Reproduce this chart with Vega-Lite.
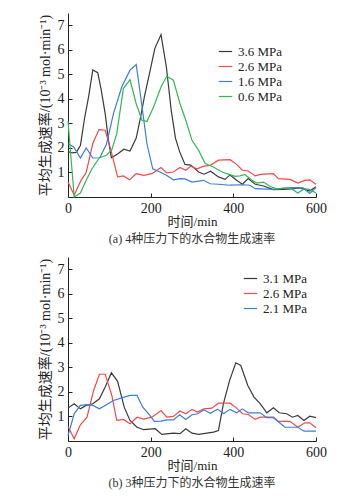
{
  "$schema": "https://vega.github.io/schema/vega-lite/v6.json",
  "padding": {"left": 38, "top": 13, "right": 8, "bottom": 5},
  "background": "white",
  "config": {
    "view": {"stroke": null},
    "font": "'Liberation Serif', 'Noto Sans CJK SC'",
    "axis": {
      "domainColor": "#222", "tickColor": "#222", "grid": false,
      "labelFont": "'Liberation Serif', 'Noto Sans CJK SC'", "labelFontSize": 14, "labelColor": "#222",
      "titleFont": "'Liberation Serif', 'Noto Sans CJK SC'", "titleFontSize": 13, "titleFontWeight": "normal", "titleColor": "#222"
    },
    "legend": {"labelFont": "'Liberation Serif'", "labelFontSize": 13, "labelColor": "#222"}
  },
  "datasets": {
    "a": [
      {"t":0,"v":1.85,"s":"3.6 MPa"},{"t":10,"v":1.8,"s":"3.6 MPa"},{"t":20,"v":1.82,"s":"3.6 MPa"},{"t":30,"v":2.1,"s":"3.6 MPa"},{"t":40,"v":3.2,"s":"3.6 MPa"},{"t":50,"v":4.1,"s":"3.6 MPa"},{"t":60,"v":5.18,"s":"3.6 MPa"},{"t":72,"v":5.07,"s":"3.6 MPa"},{"t":80,"v":4.4,"s":"3.6 MPa"},{"t":90,"v":3.4,"s":"3.6 MPa"},{"t":98,"v":2.3,"s":"3.6 MPa"},{"t":105,"v":1.6,"s":"3.6 MPa"},{"t":120,"v":1.75,"s":"3.6 MPa"},{"t":135,"v":1.95,"s":"3.6 MPa"},{"t":150,"v":1.87,"s":"3.6 MPa"},{"t":165,"v":2.4,"s":"3.6 MPa"},{"t":175,"v":3.2,"s":"3.6 MPa"},{"t":185,"v":4.1,"s":"3.6 MPa"},{"t":198,"v":5.1,"s":"3.6 MPa"},{"t":210,"v":6.05,"s":"3.6 MPa"},{"t":225,"v":6.62,"s":"3.6 MPa"},{"t":238,"v":5.3,"s":"3.6 MPa"},{"t":250,"v":3.5,"s":"3.6 MPa"},{"t":260,"v":2.4,"s":"3.6 MPa"},{"t":270,"v":1.85,"s":"3.6 MPa"},{"t":283,"v":1.33,"s":"3.6 MPa"},{"t":297,"v":1.3,"s":"3.6 MPa"},{"t":316,"v":1.02,"s":"3.6 MPa"},{"t":329,"v":0.93,"s":"3.6 MPa"},{"t":345,"v":1.05,"s":"3.6 MPa"},{"t":364,"v":0.82,"s":"3.6 MPa"},{"t":380,"v":0.72,"s":"3.6 MPa"},{"t":392,"v":0.9,"s":"3.6 MPa"},{"t":408,"v":0.68,"s":"3.6 MPa"},{"t":422,"v":0.52,"s":"3.6 MPa"},{"t":436,"v":0.75,"s":"3.6 MPa"},{"t":453,"v":0.52,"s":"3.6 MPa"},{"t":473,"v":0.45,"s":"3.6 MPa"},{"t":497,"v":0.3,"s":"3.6 MPa"},{"t":520,"v":0.31,"s":"3.6 MPa"},{"t":540,"v":0.33,"s":"3.6 MPa"},{"t":561,"v":0.37,"s":"3.6 MPa"},{"t":585,"v":0.24,"s":"3.6 MPa"},{"t":600,"v":0.42,"s":"3.6 MPa"},

      {"t":0,"v":0.61,"s":"2.6 MPa"},{"t":15,"v":0.08,"s":"2.6 MPa"},{"t":31,"v":0.66,"s":"2.6 MPa"},{"t":44,"v":1.0,"s":"2.6 MPa"},{"t":60,"v":2.18,"s":"2.6 MPa"},{"t":75,"v":2.75,"s":"2.6 MPa"},{"t":90,"v":2.72,"s":"2.6 MPa"},{"t":104,"v":1.9,"s":"2.6 MPa"},{"t":120,"v":0.82,"s":"2.6 MPa"},{"t":134,"v":0.86,"s":"2.6 MPa"},{"t":149,"v":0.7,"s":"2.6 MPa"},{"t":165,"v":0.95,"s":"2.6 MPa"},{"t":183,"v":0.88,"s":"2.6 MPa"},{"t":203,"v":0.95,"s":"2.6 MPa"},{"t":225,"v":1.2,"s":"2.6 MPa"},{"t":239,"v":0.98,"s":"2.6 MPa"},{"t":255,"v":1.02,"s":"2.6 MPa"},{"t":271,"v":1.2,"s":"2.6 MPa"},{"t":285,"v":1.09,"s":"2.6 MPa"},{"t":297,"v":1.26,"s":"2.6 MPa"},{"t":312,"v":1.15,"s":"2.6 MPa"},{"t":329,"v":1.26,"s":"2.6 MPa"},{"t":344,"v":1.29,"s":"2.6 MPa"},{"t":364,"v":1.5,"s":"2.6 MPa"},{"t":392,"v":1.52,"s":"2.6 MPa"},{"t":408,"v":1.33,"s":"2.6 MPa"},{"t":422,"v":1.09,"s":"2.6 MPa"},{"t":436,"v":1.06,"s":"2.6 MPa"},{"t":453,"v":0.86,"s":"2.6 MPa"},{"t":465,"v":0.92,"s":"2.6 MPa"},{"t":497,"v":0.95,"s":"2.6 MPa"},{"t":509,"v":0.75,"s":"2.6 MPa"},{"t":537,"v":0.72,"s":"2.6 MPa"},{"t":556,"v":0.57,"s":"2.6 MPa"},{"t":573,"v":0.68,"s":"2.6 MPa"},{"t":585,"v":0.7,"s":"2.6 MPa"},{"t":600,"v":0.52,"s":"2.6 MPa"},

      {"t":0,"v":2.17,"s":"1.6 MPa"},{"t":14,"v":2.04,"s":"1.6 MPa"},{"t":30,"v":1.59,"s":"1.6 MPa"},{"t":44,"v":2.0,"s":"1.6 MPa"},{"t":60,"v":1.59,"s":"1.6 MPa"},{"t":77,"v":1.6,"s":"1.6 MPa"},{"t":93,"v":2.15,"s":"1.6 MPa"},{"t":110,"v":3.4,"s":"1.6 MPa"},{"t":130,"v":4.48,"s":"1.6 MPa"},{"t":150,"v":5.17,"s":"1.6 MPa"},{"t":165,"v":5.4,"s":"1.6 MPa"},{"t":175,"v":4.2,"s":"1.6 MPa"},{"t":191,"v":2.17,"s":"1.6 MPa"},{"t":205,"v":1.15,"s":"1.6 MPa"},{"t":225,"v":1.0,"s":"1.6 MPa"},{"t":239,"v":0.88,"s":"1.6 MPa"},{"t":255,"v":0.7,"s":"1.6 MPa"},{"t":271,"v":0.75,"s":"1.6 MPa"},{"t":283,"v":0.74,"s":"1.6 MPa"},{"t":300,"v":0.61,"s":"1.6 MPa"},{"t":328,"v":0.68,"s":"1.6 MPa"},{"t":344,"v":0.54,"s":"1.6 MPa"},{"t":364,"v":0.52,"s":"1.6 MPa"},{"t":392,"v":0.48,"s":"1.6 MPa"},{"t":424,"v":0.5,"s":"1.6 MPa"},{"t":440,"v":0.48,"s":"1.6 MPa"},{"t":453,"v":0.34,"s":"1.6 MPa"},{"t":497,"v":0.31,"s":"1.6 MPa"},{"t":537,"v":0.38,"s":"1.6 MPa"},{"t":569,"v":0.37,"s":"1.6 MPa"},{"t":585,"v":0.14,"s":"1.6 MPa"},{"t":600,"v":0.38,"s":"1.6 MPa"},

      {"t":0,"v":3.1,"s":"0.6 MPa"},{"t":15,"v":0.0,"s":"0.6 MPa"},{"t":30,"v":0.16,"s":"0.6 MPa"},{"t":44,"v":0.68,"s":"0.6 MPa"},{"t":58,"v":1.15,"s":"0.6 MPa"},{"t":76,"v":1.6,"s":"0.6 MPa"},{"t":93,"v":1.7,"s":"0.6 MPa"},{"t":106,"v":1.93,"s":"0.6 MPa"},{"t":118,"v":2.58,"s":"0.6 MPa"},{"t":134,"v":4.42,"s":"0.6 MPa"},{"t":150,"v":4.78,"s":"0.6 MPa"},{"t":165,"v":3.8,"s":"0.6 MPa"},{"t":179,"v":3.13,"s":"0.6 MPa"},{"t":191,"v":3.08,"s":"0.6 MPa"},{"t":207,"v":3.67,"s":"0.6 MPa"},{"t":225,"v":4.48,"s":"0.6 MPa"},{"t":239,"v":4.92,"s":"0.6 MPa"},{"t":255,"v":4.76,"s":"0.6 MPa"},{"t":271,"v":3.8,"s":"0.6 MPa"},{"t":285,"v":3.13,"s":"0.6 MPa"},{"t":300,"v":2.31,"s":"0.6 MPa"},{"t":316,"v":1.9,"s":"0.6 MPa"},{"t":332,"v":1.36,"s":"0.6 MPa"},{"t":352,"v":1.22,"s":"0.6 MPa"},{"t":368,"v":1.06,"s":"0.6 MPa"},{"t":384,"v":0.95,"s":"0.6 MPa"},{"t":404,"v":0.84,"s":"0.6 MPa"},{"t":416,"v":0.86,"s":"0.6 MPa"},{"t":428,"v":0.92,"s":"0.6 MPa"},{"t":445,"v":0.68,"s":"0.6 MPa"},{"t":457,"v":0.57,"s":"0.6 MPa"},{"t":473,"v":0.61,"s":"0.6 MPa"},{"t":489,"v":0.43,"s":"0.6 MPa"},{"t":505,"v":0.33,"s":"0.6 MPa"},{"t":537,"v":0.38,"s":"0.6 MPa"},{"t":556,"v":0.16,"s":"0.6 MPa"},{"t":572,"v":0.34,"s":"0.6 MPa"},{"t":585,"v":0.3,"s":"0.6 MPa"},{"t":600,"v":0.16,"s":"0.6 MPa"}
    ],
    "b": [
      {"t":0,"v":1.34,"s":"3.1 MPa"},{"t":15,"v":1.52,"s":"3.1 MPa"},{"t":30,"v":1.31,"s":"3.1 MPa"},{"t":44,"v":1.45,"s":"3.1 MPa"},{"t":60,"v":1.52,"s":"3.1 MPa"},{"t":76,"v":1.72,"s":"3.1 MPa"},{"t":90,"v":2.2,"s":"3.1 MPa"},{"t":105,"v":2.78,"s":"3.1 MPa"},{"t":120,"v":2.43,"s":"3.1 MPa"},{"t":136,"v":1.38,"s":"3.1 MPa"},{"t":150,"v":0.84,"s":"3.1 MPa"},{"t":167,"v":0.56,"s":"3.1 MPa"},{"t":183,"v":0.46,"s":"3.1 MPa"},{"t":211,"v":0.5,"s":"3.1 MPa"},{"t":227,"v":0.27,"s":"3.1 MPa"},{"t":255,"v":0.32,"s":"3.1 MPa"},{"t":271,"v":0.3,"s":"3.1 MPa"},{"t":285,"v":0.5,"s":"3.1 MPa"},{"t":300,"v":0.32,"s":"3.1 MPa"},{"t":316,"v":0.27,"s":"3.1 MPa"},{"t":352,"v":0.36,"s":"3.1 MPa"},{"t":364,"v":0.43,"s":"3.1 MPa"},{"t":376,"v":1.52,"s":"3.1 MPa"},{"t":391,"v":2.47,"s":"3.1 MPa"},{"t":406,"v":3.19,"s":"3.1 MPa"},{"t":418,"v":3.08,"s":"3.1 MPa"},{"t":435,"v":2.26,"s":"3.1 MPa"},{"t":450,"v":1.79,"s":"3.1 MPa"},{"t":465,"v":1.52,"s":"3.1 MPa"},{"t":481,"v":1.15,"s":"3.1 MPa"},{"t":497,"v":1.35,"s":"3.1 MPa"},{"t":511,"v":1.15,"s":"3.1 MPa"},{"t":529,"v":1.11,"s":"3.1 MPa"},{"t":543,"v":0.97,"s":"3.1 MPa"},{"t":556,"v":1.04,"s":"3.1 MPa"},{"t":571,"v":0.84,"s":"3.1 MPa"},{"t":585,"v":1.01,"s":"3.1 MPa"},{"t":600,"v":0.95,"s":"3.1 MPa"},

      {"t":0,"v":0.59,"s":"2.6 MPa"},{"t":15,"v":0.09,"s":"2.6 MPa"},{"t":30,"v":0.66,"s":"2.6 MPa"},{"t":46,"v":0.97,"s":"2.6 MPa"},{"t":62,"v":2.06,"s":"2.6 MPa"},{"t":76,"v":2.72,"s":"2.6 MPa"},{"t":90,"v":2.72,"s":"2.6 MPa"},{"t":106,"v":1.86,"s":"2.6 MPa"},{"t":118,"v":0.84,"s":"2.6 MPa"},{"t":134,"v":0.88,"s":"2.6 MPa"},{"t":150,"v":0.7,"s":"2.6 MPa"},{"t":167,"v":0.97,"s":"2.6 MPa"},{"t":183,"v":0.89,"s":"2.6 MPa"},{"t":203,"v":0.97,"s":"2.6 MPa"},{"t":225,"v":1.24,"s":"2.6 MPa"},{"t":239,"v":0.97,"s":"2.6 MPa"},{"t":255,"v":1.0,"s":"2.6 MPa"},{"t":271,"v":1.22,"s":"2.6 MPa"},{"t":285,"v":1.11,"s":"2.6 MPa"},{"t":300,"v":1.29,"s":"2.6 MPa"},{"t":313,"v":1.18,"s":"2.6 MPa"},{"t":329,"v":1.31,"s":"2.6 MPa"},{"t":348,"v":1.34,"s":"2.6 MPa"},{"t":364,"v":1.54,"s":"2.6 MPa"},{"t":392,"v":1.54,"s":"2.6 MPa"},{"t":408,"v":1.34,"s":"2.6 MPa"},{"t":422,"v":1.11,"s":"2.6 MPa"},{"t":436,"v":1.08,"s":"2.6 MPa"},{"t":453,"v":0.88,"s":"2.6 MPa"},{"t":465,"v":0.97,"s":"2.6 MPa"},{"t":497,"v":0.97,"s":"2.6 MPa"},{"t":509,"v":0.8,"s":"2.6 MPa"},{"t":537,"v":0.8,"s":"2.6 MPa"},{"t":556,"v":0.56,"s":"2.6 MPa"},{"t":573,"v":0.74,"s":"2.6 MPa"},{"t":585,"v":0.74,"s":"2.6 MPa"},{"t":600,"v":0.54,"s":"2.6 MPa"},

      {"t":0,"v":0.22,"s":"2.1 MPa"},{"t":15,"v":1.11,"s":"2.1 MPa"},{"t":30,"v":1.45,"s":"2.1 MPa"},{"t":46,"v":1.48,"s":"2.1 MPa"},{"t":60,"v":1.45,"s":"2.1 MPa"},{"t":76,"v":1.31,"s":"2.1 MPa"},{"t":90,"v":1.45,"s":"2.1 MPa"},{"t":110,"v":1.65,"s":"2.1 MPa"},{"t":130,"v":1.76,"s":"2.1 MPa"},{"t":150,"v":1.86,"s":"2.1 MPa"},{"t":167,"v":1.86,"s":"2.1 MPa"},{"t":181,"v":1.38,"s":"2.1 MPa"},{"t":195,"v":1.11,"s":"2.1 MPa"},{"t":209,"v":0.8,"s":"2.1 MPa"},{"t":225,"v":0.81,"s":"2.1 MPa"},{"t":239,"v":0.86,"s":"2.1 MPa"},{"t":255,"v":0.86,"s":"2.1 MPa"},{"t":270,"v":1.07,"s":"2.1 MPa"},{"t":285,"v":0.88,"s":"2.1 MPa"},{"t":300,"v":1.07,"s":"2.1 MPa"},{"t":314,"v":1.11,"s":"2.1 MPa"},{"t":329,"v":1.27,"s":"2.1 MPa"},{"t":344,"v":1.13,"s":"2.1 MPa"},{"t":362,"v":1.3,"s":"2.1 MPa"},{"t":376,"v":1.11,"s":"2.1 MPa"},{"t":392,"v":1.29,"s":"2.1 MPa"},{"t":408,"v":1.15,"s":"2.1 MPa"},{"t":422,"v":1.31,"s":"2.1 MPa"},{"t":436,"v":1.15,"s":"2.1 MPa"},{"t":465,"v":1.15,"s":"2.1 MPa"},{"t":481,"v":0.95,"s":"2.1 MPa"},{"t":497,"v":0.95,"s":"2.1 MPa"},{"t":525,"v":0.56,"s":"2.1 MPa"},{"t":556,"v":0.56,"s":"2.1 MPa"},{"t":571,"v":0.4,"s":"2.1 MPa"},{"t":600,"v":0.4,"s":"2.1 MPa"}
    ]
  },
  "vconcat": [
    {
      "width": 248, "height": 184,
      "data": {"name": "a"},
      "title": {"text": "(a) 4种压力下的水合物生成速率", "orient": "bottom", "fontSize": 12, "fontWeight": "normal", "font": "'Liberation Serif', 'Noto Sans CJK SC'", "color": "#333", "offset": 6},
      "mark": {"type": "line", "strokeWidth": 1.2},
      "encoding": {
        "x": {"field": "t", "type": "quantitative", "scale": {"domain": [0, 600], "nice": false}, "axis": {"values": [0, 200, 400, 600], "title": "时间/min", "tickSize": -4, "labelPadding": 8, "titlePadding": 0, "labelFlush": false}},
        "y": {"field": "v", "type": "quantitative", "scale": {"domain": [0, 7.5], "nice": false}, "axis": {"values": [1, 2, 3, 4, 5, 6, 7], "title": "平均生成速率/(10⁻³ mol·min⁻¹)", "tickSize": -4, "labelPadding": 8, "titlePadding": 5, "titleFontSize": 14}},
        "color": {"field": "s", "type": "nominal", "sort": null,
          "scale": {"domain": ["3.6 MPa", "2.6 MPa", "1.6 MPa", "0.6 MPa"], "range": ["#3a3a3a", "#f44848", "#3b7fd6", "#33b856"]},
          "legend": {"title": null, "orient": "none", "legendX": 150, "legendY": 31, "symbolType": "stroke", "symbolSize": 180, "symbolStrokeWidth": 1.2, "rowPadding": 0, "labelOffset": 5}}
      }
    },
    {
      "width": 248, "height": 184,
      "data": {"name": "b"},
      "title": {"text": "(b) 3种压力下的水合物生成速率", "orient": "bottom", "fontSize": 12, "fontWeight": "normal", "font": "'Liberation Serif', 'Noto Sans CJK SC'", "color": "#333", "offset": 6},
      "mark": {"type": "line", "strokeWidth": 1.2},
      "encoding": {
        "x": {"field": "t", "type": "quantitative", "scale": {"domain": [0, 600], "nice": false}, "axis": {"values": [0, 200, 400, 600], "title": "时间/min", "tickSize": -4, "labelPadding": 8, "titlePadding": 0, "labelFlush": false}},
        "y": {"field": "v", "type": "quantitative", "scale": {"domain": [0, 7.5], "nice": false}, "axis": {"values": [1, 2, 3, 4, 5, 6, 7], "title": "平均生成速率/(10⁻³ mol·min⁻¹)", "tickSize": -4, "labelPadding": 8, "titlePadding": 5, "titleFontSize": 14}},
        "color": {"field": "s", "type": "nominal", "sort": null,
          "scale": {"domain": ["3.1 MPa", "2.6 MPa", "2.1 MPa"], "range": ["#3a3a3a", "#f44848", "#3b7fd6"]},
          "legend": {"title": null, "orient": "none", "legendX": 175, "legendY": 14, "symbolType": "stroke", "symbolSize": 180, "symbolStrokeWidth": 1.2, "rowPadding": 0, "labelOffset": 5}}
      }
    }
  ],
  "resolve": {"scale": {"color": "independent"}, "legend": {"color": "independent"}},
  "spacing": 12
}
